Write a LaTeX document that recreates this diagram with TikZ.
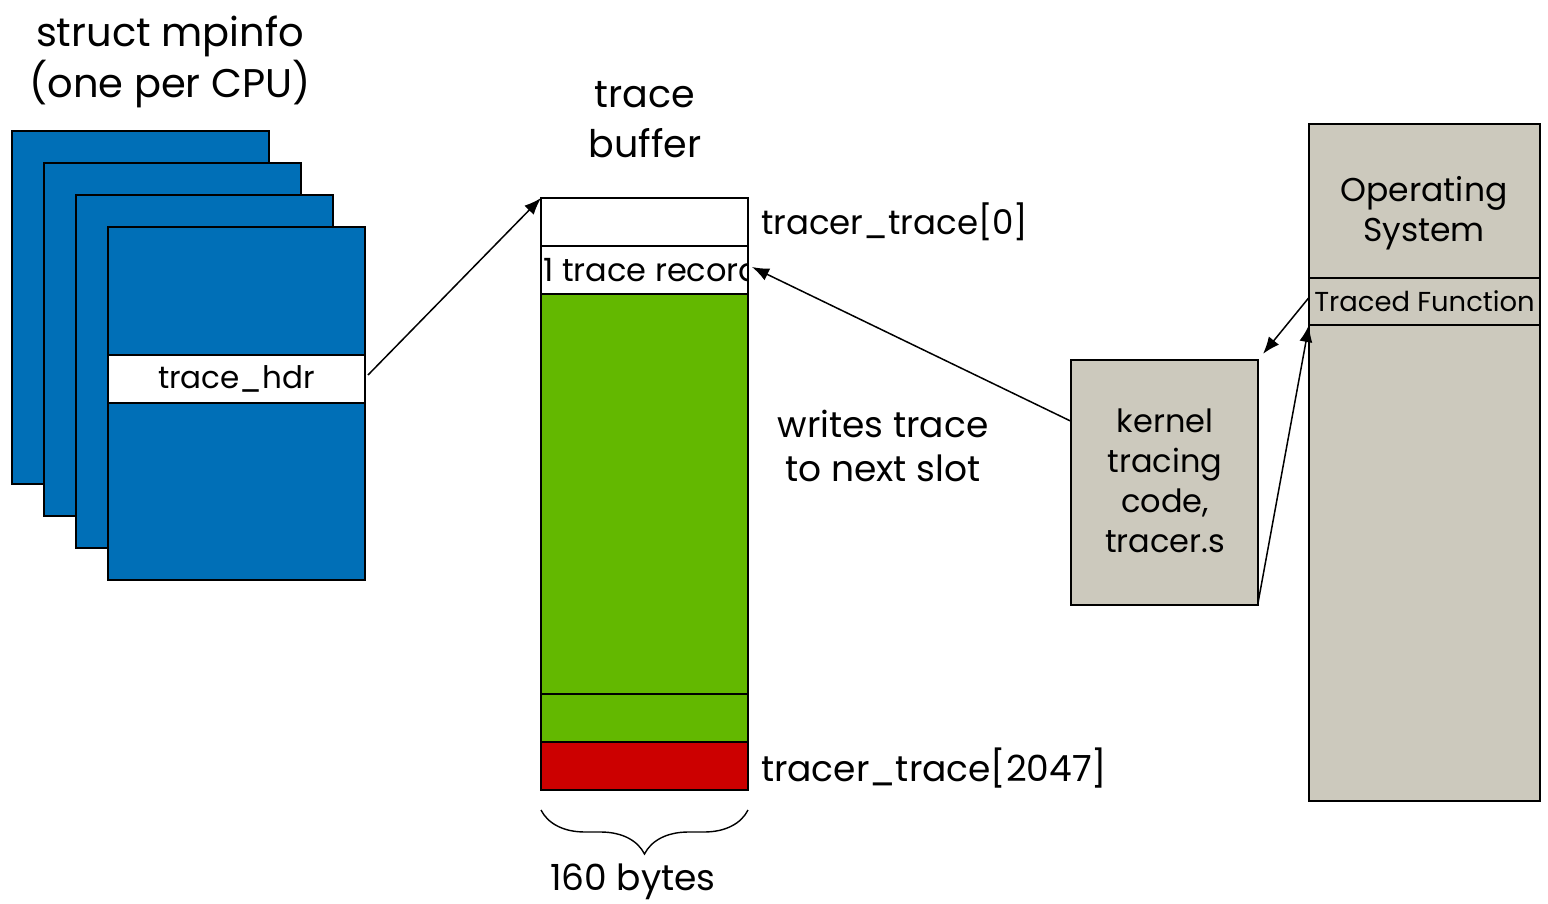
\documentclass[tikz,border=0pt]{standalone}
\usepackage{fontspec}
\setmainfont{Poppins}
\usetikzlibrary{arrows.meta,positioning,calc,decorations.pathreplacing}
\definecolor{CpuBlue}{HTML}{006FB7}
\definecolor{SlotGreen}{HTML}{63B800}
\definecolor{SlotRed}{HTML}{CC0000}
\definecolor{OsGray}{HTML}{CCC9BD}

\begin{document}
\begin{tikzpicture}[
    x=0.5pt, y=-0.5pt,
    box/.style={draw=black, line width=0.9pt, inner sep=0pt, outer sep=0pt},
    cpucard/.style={box, fill=CpuBlue, minimum width=128.5pt, minimum height=176.5pt},
    slot/.style={box, fill=white, minimum width=103.5pt, minimum height=24pt},
    ptr/.style={-{Latex[length=8.5pt,width=6.5pt]}, line width=0.75pt},
    bigtxt/.style={font=\fontsize{20}{25.5}\selectfont, align=center},
    midtxt/.style={font=\fontsize{17}{20}\selectfont, align=center},
    smalltxt/.style={font=\fontsize{13.7}{17}\selectfont, align=center}
]

  \useasboundingbox (0,0) rectangle (1548,904);

  % =========================================================================
  % STRUCT MPINFO (UM POR CPU)
  % =========================================================================
  \node[bigtxt] (t_mp) at (170, 62) {struct mpinfo\\(one per CPU)};

  \foreach \i in {0,...,3}
    \node[cpucard] (cpu\i) at (140.5+32*\i, 307.5+32*\i) {};

  \node[box, fill=white, minimum width=128.5pt, minimum height=24pt, midtxt, font=\fontsize{15.5}{18}\selectfont] (hdr) at (236.5, 379) {trace\_hdr};

  % =========================================================================
  % TRACE BUFFER
  % =========================================================================
  \node[bigtxt, font=\fontsize{19}{25}\selectfont] (t_buf) at (645, 120) {trace\\buffer};

  \node[slot] (s_first) at (644.5, 222) {};
  \node[slot] (s_rec) at (644.5, 270) {};
  \node[slot, fill=SlotGreen, minimum height=200pt] (s_mid) at (644.5, 494) {};
  \node[slot, fill=SlotGreen] (s_prev) at (644.5, 718) {};
  \node[slot, fill=SlotRed] (s_last) at (644.5, 766) {};

  \begin{scope}
    \clip (s_rec.south west) rectangle (s_rec.north east);
    \node[midtxt, font=\fontsize{16}{20}\selectfont, anchor=west, inner sep=1pt] (rec_txt) at (s_rec.west) {1 trace record};
  \end{scope}

  \node[midtxt, anchor=west] (l_first) at (754, 222) {tracer\_trace[0]};
  \node[midtxt, anchor=west, font=\fontsize{18}{20}\selectfont] (l_last) at (754, 768) {tracer\_trace[2047]};

  \draw[decorate, decoration={brace, mirror, amplitude=22pt}, line width=0.7pt]
    (541, 810) -- (748, 810);
  \node[midtxt, font=\fontsize{18}{20}\selectfont] (l_bytes) at (633, 882) {160 bytes};

  \node[midtxt, font=\fontsize{18}{22}\selectfont] (l_writes) at (883, 446) {writes trace\\to next slot};

  % =========================================================================
  % KERNEL TRACING CODE
  % =========================================================================
  \node[box, fill=OsGray, minimum width=93.5pt, minimum height=122.5pt] (kern) at (1164.5, 482.5) {};
  \node[midtxt, font=\fontsize{16}{20}\selectfont] (kern_txt) at (1165, 481) {kernel\\tracing\\code,\\tracer.s};

  % =========================================================================
  % OPERATING SYSTEM
  % =========================================================================
  \node[box, fill=OsGray, minimum width=115.5pt, minimum height=338.5pt] (os) at (1424.5, 462.5) {};
  \node[midtxt, font=\fontsize{16.5}{20}\selectfont] (os_txt) at (1424, 213) {Operating\\System};
  \node[box, fill=OsGray, minimum width=115.5pt, minimum height=23.5pt, smalltxt] (tfunc) at (1424.5, 301.5) {Traced Function};

  % =========================================================================
  % PONTEIROS
  % =========================================================================
  \draw[ptr] ([xshift=1.5pt,yshift=2pt]hdr.east) -- (s_first.north west);
  \draw[ptr] ($(kern.north west)!0.25!(kern.south west)$) -- ([xshift=2pt,yshift=1.5pt]s_rec.east);
  \draw[ptr, shorten >=4pt] ([yshift=2pt]tfunc.west) -- (kern.north east);
  \draw[ptr] ([yshift=1pt]kern.south east) -- (tfunc.south west);

\end{tikzpicture}
\end{document}
